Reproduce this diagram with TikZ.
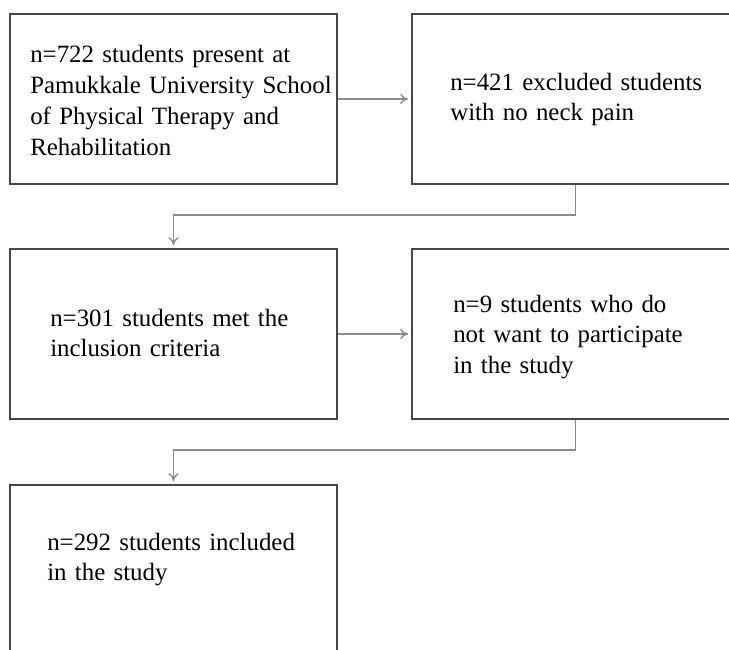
\documentclass[tikz,border=0pt]{standalone}
\usepackage{fontspec}
\setmainfont{Liberation Serif}
\usetikzlibrary{arrows.meta}
\newcommand\boxfont{\fontsize{17.7}{22}\selectfont}

\begin{document}
\begin{tikzpicture}[x=0.025cm,y=-0.025cm,>={To[length=0.2cm,width=0.26cm]},
  box/.style={rectangle,draw=black!72,line width=1.5pt,minimum width=8.175cm,
    minimum height=4.25cm},
  txt/.style={inner sep=0pt,text width=8cm,align=left,anchor=base west,
    font=\boxfont},
  link/.style={->,draw=black!45,line width=1pt,shorten >=2pt}]

  \useasboundingbox (0,0) rectangle (729,650);
  \clip (0,0) rectangle (729,650);

  % boxes
  \node[box] (all) at (173.5,99) {};
  \node[box] (excl) at (575.5,99) {};
  \node[box] (met) at (173.5,334) {};
  \node[box] (refuse) at (575.5,334) {};
  \node[box,minimum height=4.6cm] (incl) at (173.5,577) {};

  % texts
  \node[txt] (allt) at (30,63)
    {n=722 students present at\\Pamukkale University School\\of Physical Therapy and\\Rehabilitation};
  \node[txt] (exclt) at (450,90)
    {n=421 excluded students\\with no neck pain};
  \node[txt] (mett) at (50,326)
    {n=301 students met the\\inclusion criteria};
  \node[txt] (refuset) at (453,312)
    {n=9 students who do\\not want to participate\\in the study};
  \node[txt] (inclt) at (47,550)
    {n=292 students included\\in the study};

  \coordinate (bend1) at (575.5,215);
  \coordinate (bend2) at (575.5,450);

  \path[link]
    (all) edge (excl)
    (met) edge (refuse);
  \draw[link] (excl.south) -- (bend1) -| (met.north);
  \draw[link] (refuse.south) -- (bend2) -| (incl.north);
\end{tikzpicture}
\end{document}
